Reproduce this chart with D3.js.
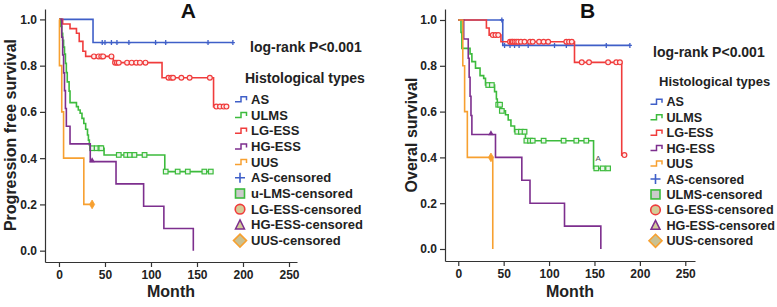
<!DOCTYPE html>
<html>
<head>
<meta charset="utf-8">
<script src="https://cdn.jsdelivr.net/npm/d3@7"></script>
<style>
body { margin: 0; background: #fff; }
svg text { font-family: "Liberation Sans", Arial, sans-serif; }
</style>
</head>
<body>
<div id="chart"></div>
<script>
// ticks and labels
const monthTicks = [0, 50, 100, 150, 200, 250];
const survTicks = [0, 0.2, 0.4, 0.6, 0.8, 1.0];
const groups = ["AS", "ULMS", "LG-ESS", "HG-ESS", "UUS"];
const colors = ["#3f5fc8", "#3dbb3d", "#f03c3c", "#7d2f8e", "#f7a030"];
const legendA = ["AS", "ULMS", "LG-ESS", "HG-ESS", "UUS", "AS-censored", "u-LMS-censored", "LG-ESS-censored", "HG-ESS-censored", "UUS-censored"];
const legendB = ["AS", "ULMS", "LG-ESS", "HG-ESS", "UUS", "AS-censored", "ULMS-censored", "LG-ESS-censored", "HG-ESS-censored", "UUS-censored"];

// Panel A - progression free survival (time in months, survival after each event)
const pfsAsTime = [0, 37];
const pfsAsSurv = [1, 0.9];
const pfsAsCens = [47, 50, 57, 63, 76, 105, 116, 162, 189];

const pfsUlmsTime = [0, 2, 3, 4, 5, 6, 7, 8, 9, 11, 12, 19, 21, 23, 25, 27, 29, 31, 32, 33, 34, 49, 115];
const pfsUlmsSurv = [1, 0.97, 0.94, 0.91, 0.88, 0.85, 0.81, 0.77, 0.73, 0.69, 0.64, 0.623, 0.608, 0.594, 0.572, 0.55, 0.525, 0.5, 0.478, 0.457, 0.443, 0.414, 0.342];
const pfsUlmsCens = [36, 41, 45, 46, 65, 73, 77, 82, 93, 116, 129, 140, 158, 165];

const pfsLgTime = [0, 4, 12, 19, 22, 26, 29, 59, 112, 168];
const pfsLgSurv = [1, 0.98, 0.96, 0.94, 0.905, 0.862, 0.84, 0.813, 0.748, 0.623];
const pfsLgCens = [38, 43, 46, 48, 57, 61, 63, 65, 74, 79, 84, 88, 94, 119, 122, 124, 133, 142, 164, 171, 175, 179, 182];

const pfsHgTime = [0, 3, 4, 5, 6, 7, 8, 12, 34, 62, 92, 114, 146];
const pfsHgSurv = [1, 0.923, 0.846, 0.769, 0.692, 0.615, 0.538, 0.462, 0.385, 0.289, 0.192, 0.096, 0];
const pfsHgCens = [36];

const pfsUusTime = [0, 0.5, 3, 5, 27];
const pfsUusSurv = [1, 0.8, 0.6, 0.4, 0.2];
const pfsUusCens = [36];

// Panel B - overall survival
const osAsTime = [0, 49];
const osAsSurv = [1, 0.889];
const osAsCens = [48, 51, 57, 62, 67, 77, 106, 119, 163, 189];

const osUlmsTime = [0, 3, 4, 13, 15, 19, 24, 28, 30, 40, 42, 43, 47, 52, 55, 58, 62, 74, 149];
const osUlmsSurv = [1, 0.946, 0.876, 0.852, 0.818, 0.79, 0.757, 0.745, 0.716, 0.687, 0.655, 0.63, 0.603, 0.586, 0.563, 0.537, 0.512, 0.473, 0.352];
const osUlmsCens = [33, 37, 44, 46, 48, 65, 69, 73, 75, 79, 82, 94, 116, 130, 141, 152, 159, 165];

const osLgTime = [0, 31, 34, 47, 128, 180];
const osLgSurv = [1, 0.965, 0.934, 0.905, 0.815, 0.41];
const osLgCens = [38, 41, 44, 57, 59, 60, 62, 64, 66, 69, 73, 79, 82, 89, 94, 99, 119, 122, 125, 136, 144, 165, 174, 178, 183];

const osHgTime = [0, 6, 11, 12, 13, 14, 15, 41, 70, 79, 117, 157];
const osHgSurv = [1, 0.917, 0.833, 0.75, 0.667, 0.583, 0.5, 0.4, 0.3, 0.2, 0.1, 0];
const osHgCens = [36];

const osUusTime = [0, 5, 7, 10, 38];
const osUusSurv = [1, 0.8, 0.6, 0.4, 0];
const osUusCens = [36];

const markerTypes = ["plus", "square", "circle", "triangle", "diamond"];

function makeSeries(i, time, surv, cens) {
    return { name: groups[i], color: colors[i], marker: markerTypes[i], time: time, surv: surv, cens: cens };
}

const seriesA = [
    makeSeries(0, pfsAsTime, pfsAsSurv, pfsAsCens),
    makeSeries(1, pfsUlmsTime, pfsUlmsSurv, pfsUlmsCens),
    makeSeries(2, pfsLgTime, pfsLgSurv, pfsLgCens),
    makeSeries(3, pfsHgTime, pfsHgSurv, pfsHgCens),
    makeSeries(4, pfsUusTime, pfsUusSurv, pfsUusCens)
];
const seriesB = [
    makeSeries(0, osAsTime, osAsSurv, osAsCens),
    makeSeries(1, osUlmsTime, osUlmsSurv, osUlmsCens),
    makeSeries(2, osLgTime, osLgSurv, osLgCens),
    makeSeries(3, osHgTime, osHgSurv, osHgCens),
    makeSeries(4, osUusTime, osUusSurv, osUusCens)
];

var svg = d3.select("#chart")
    .append("svg")
    .attr("width", 777)
    .attr("height", 307);

function survAt(s, t) {
    var v = s.surv[0];
    s.time.forEach(function (tt, i) { if (tt <= t) v = s.surv[i]; });
    return v;
}

// small marks on the curves
function curveMark(g, type, color, px, py) {
    if (type == "plus") {
        g.append("path").attr("d", "M" + (px - 2) + "," + py + "h4M" + px + "," + (py - 2.5) + "v5")
            .attr("stroke", color).attr("stroke-width", 1.3).attr("fill", "none");
    } else if (type == "square") {
        g.append("rect").attr("x", px - 2.3).attr("y", py - 2.3).attr("width", 4.6).attr("height", 4.6)
            .attr("fill", "#eaf6ea").attr("stroke", color).attr("stroke-width", 1.2);
    } else if (type == "circle") {
        g.append("circle").attr("cx", px).attr("cy", py).attr("r", 2.4)
            .attr("fill", "#fdeaea").attr("stroke", color).attr("stroke-width", 1.2);
    } else if (type == "triangle") {
        g.append("path").attr("d", d3.symbol(d3.symbolTriangle, 14)()).attr("transform", "translate(" + px + "," + (py - 1) + ")")
            .attr("fill", color);
    } else {
        g.append("path").attr("d", d3.symbol(d3.symbolDiamond, 22)()).attr("transform", "translate(" + px + "," + py + ")")
            .attr("fill", color).attr("stroke", color).attr("stroke-width", 0.8);
    }
}

// larger marks in the legend
function legendMark(g, type, color, px, py) {
    if (type == "plus") {
        g.append("path").attr("d", "M" + (px - 5) + "," + py + "h10M" + px + "," + (py - 5) + "v10")
            .attr("stroke", color).attr("stroke-width", 1.6).attr("fill", "none");
    } else if (type == "square") {
        g.append("rect").attr("x", px - 4.5).attr("y", py - 4.5).attr("width", 9).attr("height", 9)
            .attr("fill", "#cbcbcb").attr("stroke", color).attr("stroke-width", 1.6);
    } else if (type == "circle") {
        g.append("circle").attr("cx", px).attr("cy", py).attr("r", 4.8)
            .attr("fill", "#d3cc98").attr("stroke", color).attr("stroke-width", 1.6);
    } else if (type == "triangle") {
        g.append("path").attr("d", "M" + px + "," + (py - 5) + "L" + (px + 4.5) + "," + (py + 4) + "L" + (px - 4.5) + "," + (py + 4) + "Z")
            .attr("fill", "#d3cc98").attr("stroke", color).attr("stroke-width", 1.5);
    } else {
        g.append("path").attr("d", "M" + px + "," + (py - 6.5) + "L" + (px + 6.5) + "," + py + "L" + px + "," + (py + 6.5) + "L" + (px - 6.5) + "," + py + "Z")
            .attr("fill", "#c9c192").attr("stroke", color).attr("stroke-width", 1.6);
    }
}

function drawPanel(p) {
    var x = d3.scaleLinear().domain(p.xDomain).range(p.xRange);
    var y = d3.scaleLinear().domain(p.yDomain).range(p.yRange);
    var g = svg.append("g");

    // Axes
    var xAxis = g.append("g")
        .attr("transform", "translate(0," + p.yRange[0] + ")")
        .call(d3.axisBottom(x).tickValues(monthTicks).tickSize(5).tickSizeOuter(0).tickPadding(3));
    var yAxis = g.append("g")
        .attr("transform", "translate(" + p.xRange[0] + ",0)")
        .call(d3.axisLeft(y).tickValues(survTicks).tickFormat(d3.format(".1f")).tickSize(5).tickSizeOuter(0).tickPadding(3));
    [xAxis, yAxis].forEach(function (a) {
        a.select(".domain").attr("stroke", "#333").attr("stroke-width", 1.2);
        a.selectAll(".tick line").attr("stroke", "#333").attr("stroke-width", 1.2);
        a.selectAll(".tick text").attr("fill", "#222").attr("font-size", 12).attr("font-weight", "bold")
            .style("font-family", "'Liberation Sans', Arial, sans-serif");
    });

    // Curves
    var line = d3.line()
        .x(function (d) { return x(d[0]); })
        .y(function (d) { return y(d[1]); })
        .curve(d3.curveStepAfter);

    p.series.forEach(function (s) {
        var pts = s.time.map(function (t, i) { return [t, s.surv[i]]; });
        var last = s.time[s.time.length - 1];
        var end = d3.max([last].concat(s.cens));
        if (end > last) pts.push([end, s.surv[s.surv.length - 1]]);
        g.append("path")
            .attr("d", line(pts))
            .attr("fill", "none")
            .attr("stroke", s.color)
            .attr("stroke-width", 1.6);
        s.cens.forEach(function (t) {
            curveMark(g, s.marker, s.color, x(t), y(survAt(s, t)));
        });
    });

    if (p.note) {
        g.append("text").attr("x", x(p.note[0])).attr("y", y(p.note[1]))
            .attr("font-size", 8).attr("fill", "#555").text(p.note[2]);
    }

    // Titles
    g.append("text").attr("x", p.titleX).attr("y", 18.3).attr("text-anchor", "middle")
        .attr("font-size", 21).attr("font-weight", "bold").attr("fill", "#111").text(p.title);
    g.append("text").attr("x", (p.xRange[0] + p.xRange[1]) / 2).attr("y", 297).attr("text-anchor", "middle")
        .attr("font-size", 16).attr("font-weight", "bold").attr("fill", "#222").text("Month");
    g.append("text").attr("transform", "translate(" + p.yLabelX + ",135) rotate(-90)").attr("text-anchor", "middle")
        .attr("font-size", 16).attr("font-weight", "bold").attr("fill", "#222").text(p.yLabel);

    g.append("text").attr("x", p.logX).attr("y", p.logY)
        .attr("font-size", 14).attr("font-weight", "bold").attr("fill", "#222").text("log-rank P<0.001");
    g.append("text").attr("x", p.histX).attr("y", p.histY)
        .attr("font-size", p.histSize).attr("font-weight", "bold").attr("fill", "#222").text("Histological types");

    // Legend
    p.legend.forEach(function (label, i) {
        var by = p.legY + i * p.legStep;
        var cy = by - 4.5;
        var tx = p.legX;
        if (i < 5) {
            g.append("path")
                .attr("d", "M" + (tx - 16) + "," + (cy + 2.5) + "H" + (tx - 10) + "V" + (cy - 2.5) + "H" + (tx - 4.5) + "V" + (cy + 1))
                .attr("fill", "none").attr("stroke", colors[i]).attr("stroke-width", 1.5);
        } else {
            legendMark(g, markerTypes[i - 5], colors[i - 5], tx - 11, cy);
        }
        g.append("text").attr("x", tx).attr("y", by)
            .attr("font-size", p.legSize).attr("font-weight", "bold").attr("fill", "#222").text(label);
    });
}

drawPanel({
    series: seriesA, legend: legendA, title: "A", titleX: 188.3,
    yLabel: "Progression free survival", yLabelX: 15.5,
    xDomain: [-15.2, 258.7], xRange: [45, 297],
    yDomain: [-0.049, 1.045], yRange: [262, 9],
    logX: 250, logY: 52, histX: 245, histY: 82.7, histSize: 14,
    legX: 251, legY: 103.8, legStep: 15.7, legSize: 13
});

drawPanel({
    series: seriesB, legend: legendB, title: "B", titleX: 587.5,
    yLabel: "Overal survival", yLabelX: 416.5,
    xDomain: [-14.6, 260.7], xRange: [445, 695],
    yDomain: [-0.0524, 1.048], yRange: [261, 9],
    logX: 653, logY: 56.5, histX: 659, histY: 86, histSize: 13,
    legX: 666.5, legY: 106.3, legStep: 15.44, legSize: 12.6,
    note: [151, 0.385, "A"]
});
</script>
</body>
</html>
